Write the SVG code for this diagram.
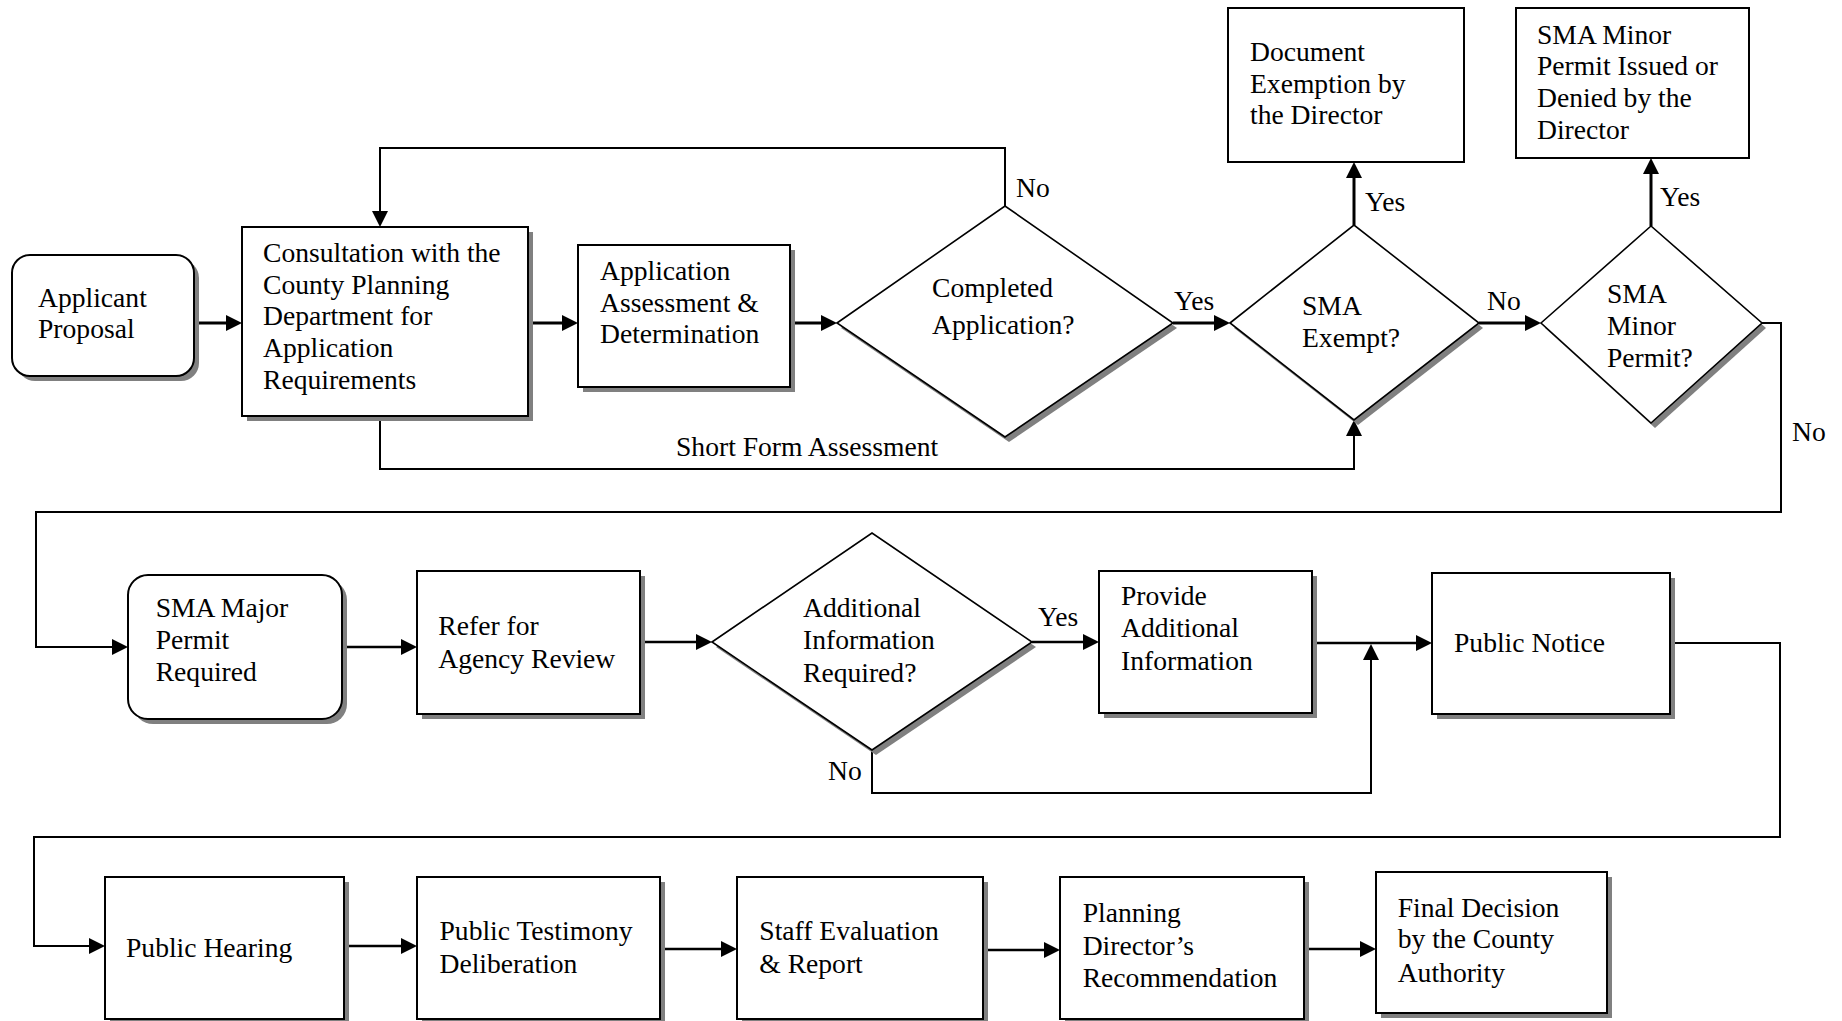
<svg xmlns="http://www.w3.org/2000/svg" width="1842" height="1021" viewBox="0 0 1842 1021">
<style>
  text { font-family: "Liberation Serif", "Times New Roman", serif; font-size: 27.6px; fill: #000; }
  .box { fill: #fff; stroke: #000; stroke-width: 2; }
  .dia { fill: #fff; stroke: #000; stroke-width: 1.6; stroke-linejoin: miter; }
  .shadow { fill: #808080; stroke: none; }
  .arrow { fill: none; stroke: #000; stroke-width: 3; marker-end: url(#ah); }
  .arrow2 { fill: none; stroke: #000; stroke-width: 2.4; marker-end: url(#ah); }
  .line { fill: none; stroke: #000; stroke-width: 2; }
  .linea { fill: none; stroke: #000; stroke-width: 2; marker-end: url(#ah); }
</style>
<defs>
  <marker id="ah" markerUnits="userSpaceOnUse" markerWidth="16" markerHeight="16" refX="6" refY="8" orient="auto">
    <path d="M0,0 L16,8 L0,16 z" fill="#000"/>
  </marker>
</defs>
<rect width="1842" height="1021" fill="#fff"/>

<g id="connectors">
  <!-- Row 1 -->
  <path class="arrow" d="M194,323 H232"/>
  <path class="arrow" d="M528,323 H568"/>
  <path class="arrow" d="M790,323 H827"/>
  <path class="linea" d="M1005,206 V148 H380 V217"/>
  <path class="arrow" d="M1173,323 H1220"/>
  <path class="arrow" d="M1354,225 V172"/>
  <path class="arrow" d="M1479,323 H1531"/>
  <path class="arrow" d="M1651,226 V168"/>
  <path class="linea" d="M380,416 V469 H1354 V430"/>
  <path class="linea" d="M1762,323 H1781 V512 H36 V647 H118"/>
  <!-- Row 2 -->
  <path class="arrow2" d="M342,647 H407"/>
  <path class="arrow2" d="M640,642 H702"/>
  <path class="arrow2" d="M1032,642 H1089"/>
  <path class="arrow2" d="M1312,643 H1422"/>
  <path class="linea" d="M872,750 V793 H1371 V654"/>
  <path class="linea" d="M1670,643 H1780 V837 H34 V946 H95"/>
  <!-- Row 3 -->
  <path class="arrow2" d="M344,946 H407"/>
  <path class="arrow2" d="M660,949 H727"/>
  <path class="arrow2" d="M983,950 H1050"/>
  <path class="arrow2" d="M1304,949 H1366"/>
  <!-- labels -->
  <text x="1016" y="197">No</text>
  <text x="1174" y="310">Yes</text>
  <text x="1365" y="211">Yes</text>
  <text x="1487" y="310">No</text>
  <text x="1660" y="206">Yes</text>
  <text x="1792" y="441">No</text>
  <text x="676" y="456">Short Form Assessment</text>
  <text x="1038" y="626">Yes</text>
  <text x="828" y="780">No</text>
</g>

<g id="applicant-proposal">
  <rect class="shadow" x="17" y="260" width="182" height="121" rx="18"/>
  <rect class="box" x="12" y="255" width="182" height="121" rx="18"/>
  <text x="38" y="307">Applicant</text>
  <text x="38" y="338">Proposal</text>
</g>

<g id="consultation">
  <rect class="shadow" x="247" y="232" width="286" height="189"/>
  <rect class="box" x="242" y="227" width="286" height="189"/>
  <text x="263" y="262">Consultation with the</text>
  <text x="263" y="293.7">County Planning</text>
  <text x="263" y="325.3">Department for</text>
  <text x="263" y="357">Application</text>
  <text x="263" y="388.7">Requirements</text>
</g>

<g id="application-assessment">
  <rect class="shadow" x="583" y="250" width="212" height="142"/>
  <rect class="box" x="578" y="245" width="212" height="142"/>
  <text x="600" y="280">Application</text>
  <text x="600" y="311.7">Assessment &amp;</text>
  <text x="600" y="343.3">Determination</text>
</g>

<g id="completed-application">
  <polygon class="shadow" points="841,328 1009,211 1177,328 1009,442"/>
  <polygon class="dia" points="837,323 1005,206 1173,323 1005,437"/>
  <text x="932" y="296.7">Completed</text>
  <text x="932" y="334">Application?</text>
</g>

<g id="document-exemption">
  <rect class="box" x="1228" y="8" width="236" height="154"/>
  <text x="1250" y="61">Document</text>
  <text x="1250" y="92.7">Exemption by</text>
  <text x="1250" y="124.3">the Director</text>
</g>

<g id="sma-exempt">
  <polygon class="shadow" points="1234,328 1358,230 1483,328 1358,425"/>
  <polygon class="dia" points="1230,323 1354,225 1479,323 1354,420"/>
  <text x="1302" y="314.5">SMA</text>
  <text x="1302" y="346.5">Exempt?</text>
</g>

<g id="sma-minor-issued">
  <rect class="box" x="1516" y="8" width="233" height="150"/>
  <text x="1537" y="43.5">SMA Minor</text>
  <text x="1537" y="75.3">Permit Issued or</text>
  <text x="1537" y="107">Denied by the</text>
  <text x="1537" y="138.8">Director</text>
</g>

<g id="sma-minor-permit">
  <polygon class="shadow" points="1545,328 1655,231 1766,328 1655,428"/>
  <polygon class="dia" points="1541,323 1651,226 1762,323 1651,423"/>
  <text x="1607" y="303.3">SMA</text>
  <text x="1607" y="335">Minor</text>
  <text x="1607" y="366.7">Permit?</text>
</g>

<g id="sma-major">
  <rect class="shadow" x="133" y="580" width="214" height="144" rx="20"/>
  <rect class="box" x="128" y="575" width="214" height="144" rx="20"/>
  <text x="155.7" y="616.5">SMA Major</text>
  <text x="155.7" y="648.5">Permit</text>
  <text x="155.7" y="681">Required</text>
</g>

<g id="refer-agency">
  <rect class="shadow" x="422" y="576" width="223" height="143"/>
  <rect class="box" x="417" y="571" width="223" height="143"/>
  <text x="438.3" y="635">Refer for</text>
  <text x="438.3" y="668.3">Agency Review</text>
</g>

<g id="additional-info">
  <polygon class="shadow" points="716,647 876,538 1036,647 876,755"/>
  <polygon class="dia" points="712,642 872,533 1032,642 872,750"/>
  <text x="803" y="617.3">Additional</text>
  <text x="803" y="649.3">Information</text>
  <text x="803" y="681.7">Required?</text>
</g>

<g id="provide-info">
  <rect class="shadow" x="1104" y="576" width="213" height="142"/>
  <rect class="box" x="1099" y="571" width="213" height="142"/>
  <text x="1121" y="605">Provide</text>
  <text x="1121" y="636.7">Additional</text>
  <text x="1121" y="670">Information</text>
</g>

<g id="public-notice">
  <rect class="shadow" x="1437" y="578" width="238" height="141"/>
  <rect class="box" x="1432" y="573" width="238" height="141"/>
  <text x="1454" y="652.3">Public Notice</text>
</g>

<g id="public-hearing">
  <rect class="shadow" x="110" y="882" width="239" height="142"/>
  <rect class="box" x="105" y="877" width="239" height="142"/>
  <text x="126" y="956.7">Public Hearing</text>
</g>

<g id="public-testimony">
  <rect class="shadow" x="422" y="882" width="243" height="142"/>
  <rect class="box" x="417" y="877" width="243" height="142"/>
  <text x="439.5" y="940">Public Testimony</text>
  <text x="439.5" y="972.5">Deliberation</text>
</g>

<g id="staff-evaluation">
  <rect class="shadow" x="742" y="882" width="246" height="142"/>
  <rect class="box" x="737" y="877" width="246" height="142"/>
  <text x="759.3" y="940">Staff Evaluation</text>
  <text x="759.3" y="972.5">&amp; Report</text>
</g>

<g id="planning-director">
  <rect class="shadow" x="1065" y="882" width="244" height="142"/>
  <rect class="box" x="1060" y="877" width="244" height="142"/>
  <text x="1082.7" y="921.7">Planning</text>
  <text x="1082.7" y="955">Director’s</text>
  <text x="1082.7" y="986.7">Recommendation</text>
</g>

<g id="final-decision">
  <rect class="shadow" x="1381" y="877" width="231" height="141"/>
  <rect class="box" x="1376" y="872" width="231" height="141"/>
  <text x="1397.7" y="916.7">Final Decision</text>
  <text x="1397.7" y="948.3">by the County</text>
  <text x="1397.7" y="981.7">Authority</text>
</g>
</svg>
